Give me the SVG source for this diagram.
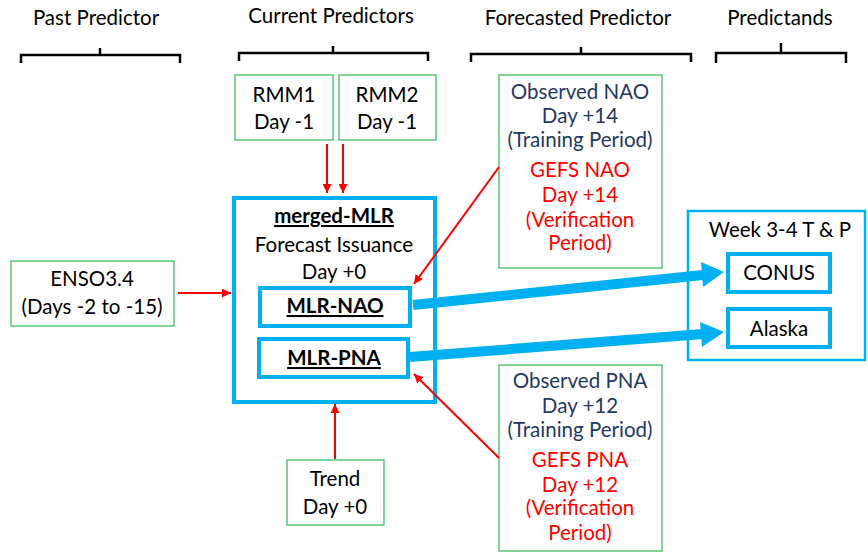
<svg xmlns="http://www.w3.org/2000/svg" width="868" height="553" viewBox="0 0 868 553">
<defs>
<style>
text{font-family:Lato,"Open Sans","Liberation Sans",sans-serif;font-size:20.5px;text-anchor:middle;fill:#000}
.navy{fill:#1F3864}
.red{fill:#FF0000}
.b{font-weight:bold;text-decoration:underline}
.g{fill:#fff;stroke:#3DBE5C;stroke-width:1.3}
.bl{fill:#fff;stroke:#00B0F0;stroke-width:4}
.br{fill:none;stroke:#000;stroke-width:2.5}
.ra{stroke:#FF0000;stroke-width:2;fill:none;marker-end:url(#rh)}
.ba{stroke:#00B0F0;stroke-width:10;fill:none}
</style>
<marker id="rh" viewBox="0 0 10 10" refX="10" refY="5" markerWidth="4.5" markerHeight="4.5" orient="auto" markerUnits="strokeWidth">
<path d="M0,0 L10,5 L0,10 z" fill="#FF0000"/>
</marker>
</defs>
<rect width="868" height="553" fill="#fff"/>
<g id="headers">
<text x="96" y="25">Past Predictor</text>
<text x="331" y="23">Current Predictors</text>
<text x="578" y="25">Forecasted Predictor</text>
<text x="780" y="25">Predictands</text>
<path class="br" d="M21,63 V55 H180 V63 M100,55 V48"/>
<path class="br" d="M239,61 V53 H428 V61 M333,53 V46"/>
<path class="br" d="M471,62 V54 H691 V62 M581,54 V47"/>
<path class="br" d="M716,63 V53 H846 V63 M781,53 V43"/>
</g>
<g id="rmm1">
<rect class="g" x="235" y="75" width="98" height="65"/>
<text x="284" y="102">RMM1</text>
<text x="284" y="129">Day -1</text>
</g>
<g id="rmm2">
<rect class="g" x="339" y="75" width="97" height="65"/>
<text x="387" y="102">RMM2</text>
<text x="387" y="129">Day -1</text>
</g>
<g id="enso">
<rect class="g" x="11" y="261" width="163" height="65"/>
<text x="92" y="286">ENSO3.4</text>
<text x="92" y="314">(Days -2 to -15)</text>
</g>
<g id="merged">
<rect class="bl" x="234" y="198" width="201" height="204"/>
<text x="334" y="223" class="b">merged-MLR</text>
<text x="334" y="252">Forecast Issuance</text>
<text x="334" y="279">Day +0</text>
</g>
<g id="mlr-nao">
<rect class="bl" x="260" y="288" width="150" height="38"/>
<text x="335" y="313" class="b">MLR-NAO</text>
</g>
<g id="mlr-pna">
<rect class="bl" x="259" y="339" width="149" height="38"/>
<text x="334" y="365" class="b">MLR-PNA</text>
</g>
<g id="trend">
<rect class="g" x="287" y="460" width="97" height="65"/>
<text x="335" y="486">Trend</text>
<text x="335" y="514">Day +0</text>
</g>
<g id="nao">
<rect class="g" x="499" y="75" width="163" height="193"/>
<text x="580" y="99" class="navy">Observed NAO</text>
<text x="580" y="123" class="navy">Day +14</text>
<text x="580" y="147" class="navy">(Training Period)</text>
<text x="580" y="177" class="red">GEFS NAO</text>
<text x="580" y="202" class="red">Day +14</text>
<text x="580" y="227" class="red">(Verification</text>
<text x="580" y="250" class="red">Period)</text>
</g>
<g id="pna">
<rect class="g" x="499" y="365" width="163" height="186"/>
<text x="580" y="388" class="navy">Observed PNA</text>
<text x="580" y="413" class="navy">Day +12</text>
<text x="580" y="437" class="navy">(Training Period)</text>
<text x="580" y="467" class="red">GEFS PNA</text>
<text x="580" y="492" class="red">Day +12</text>
<text x="580" y="515" class="red">(Verification</text>
<text x="580" y="540" class="red">Period)</text>
</g>
<g id="week">
<rect fill="#fff" stroke="#00B0F0" stroke-width="2.5" x="688" y="211" width="177" height="149"/>
<text x="780" y="237">Week 3-4 T &amp; P</text>
</g>
<g id="conus">
<rect class="bl" x="728" y="254" width="102" height="38"/>
<text x="779" y="280">CONUS</text>
</g>
<g id="alaska">
<rect class="bl" x="728" y="309" width="102" height="38"/>
<text x="779" y="336">Alaska</text>
</g>
<g id="connectors">
<line class="ra" x1="327" y1="144" x2="327" y2="193"/>
<line class="ra" x1="343" y1="144" x2="343" y2="193"/>
<line class="ra" x1="178" y1="293" x2="231" y2="293"/>
<line class="ra" x1="499" y1="167" x2="414" y2="284"/>
<line class="ra" x1="499" y1="458" x2="414" y2="374"/>
<line class="ra" x1="335" y1="459" x2="335" y2="404"/>
<path class="ba" d="M413,305 L703,275"/>
<path d="M701,262 L724,272 L703,287 z" fill="#00B0F0"/>
<path class="ba" d="M410,357 L703,334"/>
<path d="M700,322 L724,332 L702,347 z" fill="#00B0F0"/>
</g>
</svg>
